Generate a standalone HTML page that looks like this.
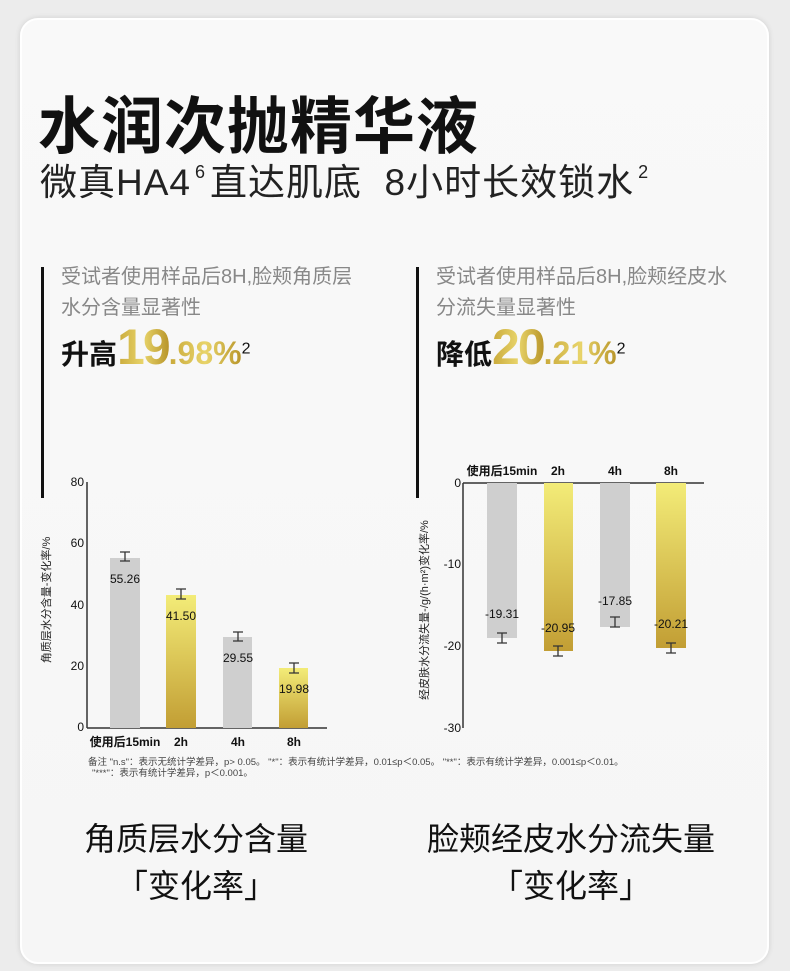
<!DOCTYPE html>
<html><head><meta charset="utf-8"><style>
body{margin:0;width:790px;height:971px;background:#ececec;font-family:"Liberation Sans","Noto Sans CJK SC",sans-serif;overflow:hidden;position:relative}
.card{position:absolute;left:20px;top:18px;width:745px;height:942px;background:linear-gradient(#f9f9f9,#f6f6f6);border:2px solid #fff;border-radius:18px;box-shadow:0 0 6px rgba(0,0,0,.12)}
.a{position:absolute;white-space:nowrap}
.gold{background:linear-gradient(90deg,#c9a93a,#e8d46a,#b8952a);-webkit-background-clip:text;background-clip:text;color:transparent;font-weight:bold}
</style></head><body>
<div class="card"></div>
<div class="a" style="left:38px;top:76px;font-size:62px;font-weight:bold;color:#111;letter-spacing:1px">水润次抛精华液</div>
<div class="a" style="left:40px;top:152px;font-size:37px;color:#222;letter-spacing:1px">微真HA4<sup style="font-size:18px;vertical-align:17px;margin:0 4px">6</sup>直达肌底&nbsp; 8小时长效锁水<sup style="font-size:18px;vertical-align:17px;margin-left:4px">2</sup></div>
<div class="a" style="left:41px;top:267px;width:3px;height:231px;background:#111"></div>
<div class="a" style="left:416px;top:267px;width:3px;height:231px;background:#111"></div>
<div class="a" style="left:61px;top:262px;font-size:20px;color:#888;line-height:31px">受试者使用样品后8H,脸颊角质层<br>水分含量显著性</div>
<div class="a" style="left:436px;top:262px;font-size:20px;color:#888;line-height:31px">受试者使用样品后8H,脸颊经皮水<br>分流失量显著性</div>
<div class="a" style="left:61px;top:318px;font-size:28px;color:#111;font-weight:bold">升高<span class="gold" style="font-size:50px;letter-spacing:-2px">19</span><span class="gold" style="font-size:32px">.98%</span><sup style="font-size:16px;font-weight:normal">2</sup></div>
<div class="a" style="left:436px;top:318px;font-size:28px;color:#111;font-weight:bold">降低<span class="gold" style="font-size:50px;letter-spacing:-2px">20</span><span class="gold" style="font-size:32px">.21%</span><sup style="font-size:16px;font-weight:normal">2</sup></div>
<svg class="a" style="left:0;top:0" width="790" height="971" font-family="Liberation Sans, Noto Sans CJK SC, sans-serif">
<defs><linearGradient id="g" x1="0" y1="0" x2="0" y2="1"><stop offset="0" stop-color="#f3ec78"/><stop offset="1" stop-color="#c29e34"/></linearGradient></defs>
<g font-size="12" fill="#111" text-anchor="end">
<text x="84" y="486">80</text><text x="84" y="547">60</text><text x="84" y="609">40</text><text x="84" y="670">20</text><text x="84" y="731">0</text></g>
<g stroke="#333" stroke-width="1.5"><line x1="87" y1="482" x2="87" y2="728"/><line x1="87" y1="728" x2="327" y2="728"/></g>
<rect x="110" y="558" width="30" height="170" fill="#cfcfcf"/>
<rect x="166" y="595" width="30" height="133" fill="url(#g)"/>
<rect x="223" y="637" width="29" height="91" fill="#cfcfcf"/>
<rect x="279" y="668" width="29" height="60" fill="url(#g)"/>
<g stroke="#333" stroke-width="1.3" fill="none">
<path d="M120 552h10M125 552v9M120 561h10"/><path d="M176 589h10M181 589v10M176 599h10"/><path d="M233 632h10M238 632v9M233 641h10"/><path d="M289 663h10M294 663v10M289 673h10"/></g>
<g font-size="12" fill="#111" text-anchor="middle">
<text x="125" y="583">55.26</text><text x="181" y="620">41.50</text><text x="238" y="662">29.55</text><text x="294" y="693">19.98</text>
<g font-weight="bold"><text x="125" y="746">使用后15min</text><text x="181" y="746">2h</text><text x="238" y="746">4h</text><text x="294" y="746">8h</text></g></g>
<text transform="translate(50,600) rotate(-90)" font-size="11" fill="#222" text-anchor="middle">角质层水分含量-变化率/%</text>
<g font-size="12" fill="#111" text-anchor="end">
<text x="461" y="487">0</text><text x="461" y="568">-10</text><text x="461" y="650">-20</text><text x="461" y="732">-30</text></g>
<g stroke="#333" stroke-width="1.5"><line x1="463" y1="483" x2="463" y2="728"/><line x1="463" y1="483" x2="704" y2="483"/></g>
<rect x="487" y="483" width="30" height="155" fill="#cfcfcf"/>
<rect x="544" y="483" width="29" height="168" fill="url(#g)"/>
<rect x="600" y="483" width="30" height="144" fill="#cfcfcf"/>
<rect x="656" y="483" width="30" height="165" fill="url(#g)"/>
<g stroke="#333" stroke-width="1.3" fill="none">
<path d="M497 633h10M502 633v10M497 643h10"/><path d="M553 646h10M558 646v10M553 656h10"/><path d="M610 617h10M615 617v10M610 627h10"/><path d="M666 643h10M671 643v10M666 653h10"/></g>
<g font-size="12" fill="#111" text-anchor="middle">
<text x="502" y="618">-19.31</text><text x="558" y="632">-20.95</text><text x="615" y="605">-17.85</text><text x="671" y="628">-20.21</text>
<g font-weight="bold"><text x="502" y="475">使用后15min</text><text x="558" y="475">2h</text><text x="615" y="475">4h</text><text x="671" y="475">8h</text></g></g>
<text transform="translate(428,610) rotate(-90)" font-size="11" fill="#222" text-anchor="middle">经皮肤水分流失量-/g/(h·m²)变化率/%</text>
<text x="88" y="765" font-size="9.5" fill="#444">备注 "n.s"：表示无统计学差异，p&gt; 0.05。 "*"：表示有统计学差异，0.01≤p＜0.05。 "**"：表示有统计学差异，0.001≤p＜0.01。</text>
<text x="92" y="776" font-size="9.5" fill="#444">"***"：表示有统计学差异，p＜0.001。</text>
<g font-size="32" fill="#111" text-anchor="middle">
<text x="196" y="850">角质层水分含量</text><text x="196" y="897">「变化率」</text>
<text x="571" y="850">脸颊经皮水分流失量</text><text x="571" y="897">「变化率」</text></g>
</svg>
</body></html>
